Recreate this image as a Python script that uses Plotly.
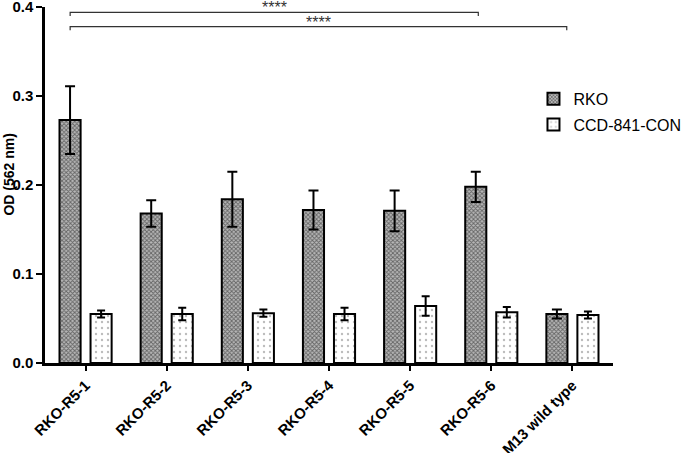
import plotly.graph_objects as go

# data
groups = ['RKO-R5-1', 'RKO-R5-2', 'RKO-R5-3', 'RKO-R5-4', 'RKO-R5-5', 'RKO-R5-6', 'M13 wild type']
rko_mean = [0.273, 0.168, 0.184, 0.172, 0.171, 0.198, 0.055]
rko_err = [0.038, 0.015, 0.031, 0.022, 0.023, 0.017, 0.005]
ccd_mean = [0.055, 0.055, 0.056, 0.055, 0.064, 0.057, 0.054]
ccd_err = [0.004, 0.007, 0.004, 0.007, 0.011, 0.006, 0.004]
yticks = [0.0, 0.1, 0.2, 0.3, 0.4]

FONT = 'Arial, Liberation Sans, sans-serif'

fig = go.Figure()
fig.add_trace(go.Bar(
    x=groups, y=rko_mean, name='RKO', legendgroup='rko',
    marker=dict(color='white', line=dict(color='black', width=2),
                pattern=dict(shape='x', size=3, solidity=0.5, fgcolor='#111', bgcolor='#b8b8b8')),
    error_y=dict(type='data', array=rko_err, color='black', thickness=2, width=5),
))
fig.add_trace(go.Bar(
    x=groups, y=ccd_mean, name='CCD-841-CON', legendgroup='ccd',
    marker=dict(color='white', line=dict(color='black', width=2),
                pattern=dict(shape='.', size=6, solidity=0.12, fgcolor='#777', bgcolor='white')),
    error_y=dict(type='data', array=ccd_err, color='black', thickness=2, width=4),
))

# significance brackets
brackets = [(-0.19, 4.84, 0.394, 0.399), (-0.19, 5.93, 0.378, 0.383)]
for x0, x1, yl, ys in brackets:
    fig.add_shape(type='path', xref='x', yref='y',
                  path=f'M {x0},{yl - 0.004} L {x0},{yl} L {x1},{yl} L {x1},{yl - 0.004}',
                  line=dict(color='#333', width=1.2))
    fig.add_annotation(x=(x0 + x1) / 2, y=ys, text='****', showarrow=False,
                       xref='x', yref='y', font=dict(family=FONT, size=16, color='#333'),
                       yanchor='middle')

fig.add_annotation(xref='paper', yref='paper', x=-0.063, y=0.53, text='<b>OD (562 nm)</b>',
                   xanchor='center', yanchor='middle',
                   textangle=-90, showarrow=False, font=dict(family=FONT, size=14, color='black'))

fig.update_layout(
    width=685, height=453,
    margin=dict(l=45, r=72, t=7, b=90, autoexpand=False),
    plot_bgcolor='white', paper_bgcolor='white',
    barmode='group', bargap=0.235, bargroupgap=0.32,
    font=dict(family=FONT, color='black'),
    showlegend=True,
    legend=dict(x=0.86, y=0.79, xanchor='left', yanchor='top', traceorder='grouped',
                font=dict(family=FONT, size=16, color='black'),
                bgcolor='rgba(0,0,0,0)', tracegroupgap=2),
)
fig.update_xaxes(
    showline=True, linecolor='black', linewidth=2.5, ticks='outside', ticklen=5,
    tickwidth=2, tickcolor='black', tickangle=-45, showgrid=False, automargin=False,
    tickfont=dict(family=FONT, size=15, color='black', weight='bold'),
    range=[-0.5, 6.5], ticklabeloverflow='allow',
)
fig.update_yaxes(
    showline=True, linecolor='black', linewidth=2.5, ticks='outside', ticklen=6,
    tickwidth=2, tickcolor='black', showgrid=False, zeroline=False, automargin=False,
    range=[0, 0.4001], tickvals=yticks, ticktext=[f'{v:.1f}' for v in yticks],
    tickfont=dict(family=FONT, size=15, color='black', weight='bold'),
    ticklabeloverflow='allow',
)

# page body has a default 8px margin, drop it so the figure sits at the corner
fig.write_html('out.html', config={'displayModeBar': False},
               post_script="document.body.style.margin='0';")
